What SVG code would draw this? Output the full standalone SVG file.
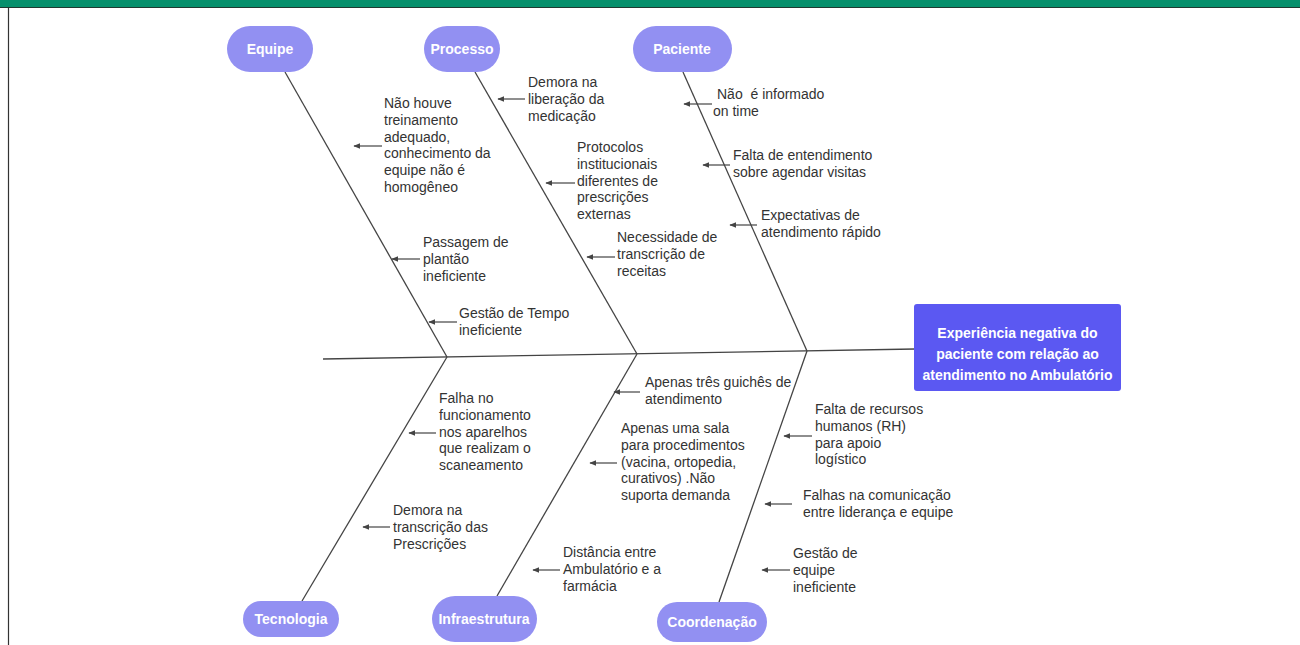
<svg xmlns="http://www.w3.org/2000/svg" width="1300" height="645" viewBox="0 0 1300 645">
<style>
.bg{fill:#ffffff}
.pill{fill:#9290f2}
.pt{font-family:"Liberation Sans",Arial,sans-serif;font-size:14px;font-weight:bold;fill:#ffffff;text-anchor:middle}
.lbl{font-family:"Liberation Sans",Arial,sans-serif;font-size:14px;fill:#333333}
.bone{stroke:#444444;stroke-width:1.3;fill:none}
.arr{stroke:#444444;stroke-width:1.2;fill:none;marker-end:url(#ah)}
</style>
<defs>
<marker id="ah" viewBox="0 0 10 10" refX="9" refY="5" markerWidth="7" markerHeight="7" markerUnits="userSpaceOnUse" orient="auto">
<path d="M0,1 L10,5 L0,9 z" fill="#444444"/>
</marker>
</defs>
<rect class="bg" x="0" y="0" width="1300" height="645"/>
<rect x="0" y="0" width="1300" height="7" fill="#06906c"/>
<line x1="0" y1="7.5" x2="1300" y2="7.5" stroke="#1f3a30" stroke-width="1.2"/>
<line x1="8.5" y1="8" x2="8.5" y2="645" stroke="#333333" stroke-width="1.2"/>

<g id="connectors">
<line class="bone" x1="323" y1="359" x2="915" y2="349"/>
<line class="bone" x1="285" y1="72" x2="447" y2="357"/>
<line class="bone" x1="475" y1="72" x2="637" y2="354"/>
<line class="bone" x1="683" y1="72" x2="807" y2="351"/>
<line class="bone" x1="447" y1="357" x2="302" y2="601"/>
<line class="bone" x1="637" y1="354" x2="497" y2="596"/>
<line class="bone" x1="807" y1="351" x2="719" y2="602"/>
<line class="arr" x1="382" y1="146" x2="354" y2="146"/>
<line class="arr" x1="525" y1="99" x2="498" y2="99"/>
<line class="arr" x1="575" y1="183" x2="546" y2="183"/>
<line class="arr" x1="615" y1="257" x2="587" y2="257"/>
<line class="arr" x1="420" y1="259" x2="392" y2="259"/>
<line class="arr" x1="457" y1="322" x2="429" y2="322"/>
<line class="arr" x1="712" y1="104" x2="684" y2="104"/>
<line class="arr" x1="730" y1="165" x2="703" y2="165"/>
<line class="arr" x1="757" y1="225" x2="730" y2="225"/>
<line class="arr" x1="640" y1="392" x2="614" y2="392"/>
<line class="arr" x1="617" y1="463" x2="590" y2="463"/>
<line class="arr" x1="436" y1="433" x2="409" y2="433"/>
<line class="arr" x1="390" y1="527" x2="363" y2="527"/>
<line class="arr" x1="560" y1="570" x2="533" y2="570"/>
<line class="arr" x1="812" y1="436" x2="784" y2="436"/>
<line class="arr" x1="792" y1="504" x2="765" y2="504"/>
<line class="arr" x1="790" y1="570" x2="762" y2="570"/>
</g>

<g id="equipe"><rect class="pill" x="227" y="26" width="86" height="46" rx="23"/><text class="pt" x="270" y="54">Equipe</text></g>
<g id="processo"><rect class="pill" x="424" y="26" width="76" height="46" rx="23"/><text class="pt" x="462" y="54">Processo</text></g>
<g id="paciente"><rect class="pill" x="633" y="26" width="99" height="46" rx="23"/><text class="pt" x="682" y="54">Paciente</text></g>
<g id="tecnologia"><rect class="pill" x="243" y="601" width="96" height="36" rx="18"/><text class="pt" x="291" y="624">Tecnologia</text></g>
<g id="infraestrutura"><rect class="pill" x="432" y="596" width="105" height="46" rx="23"/><text class="pt" x="484" y="624">Infraestrutura</text></g>
<g id="coordenacao"><rect class="pill" x="657" y="602" width="110" height="40" rx="20"/><text class="pt" x="712" y="627">Coordenação</text></g>

<g id="efeito">
<rect x="914" y="304" width="207" height="87" rx="3" fill="#5b58f2"/>
<text class="pt" x="1017.5" y="338">Experiência negativa do</text>
<text class="pt" x="1017.5" y="359">paciente com relação ao</text>
<text class="pt" x="1017.5" y="380">atendimento no Ambulatório</text>
</g>

<g id="c-equipe-1"><text class="lbl" x="384" y="108"><tspan x="384">Não houve</tspan><tspan x="384" dy="16.8">treinamento</tspan><tspan x="384" dy="16.8">adequado,</tspan><tspan x="384" dy="16.8">conhecimento da</tspan><tspan x="384" dy="16.8">equipe não é</tspan><tspan x="384" dy="16.8">homogêneo</tspan></text></g>
<g id="c-equipe-2"><text class="lbl" x="423" y="247"><tspan x="423">Passagem de</tspan><tspan x="423" dy="16.8">plantão</tspan><tspan x="423" dy="16.8">ineficiente</tspan></text></g>
<g id="c-equipe-3"><text class="lbl" x="459" y="318"><tspan x="459">Gestão de Tempo</tspan><tspan x="459" dy="16.8">ineficiente</tspan></text></g>

<g id="c-processo-1"><text class="lbl" x="528" y="87"><tspan x="528">Demora na</tspan><tspan x="528" dy="16.8">liberação da</tspan><tspan x="528" dy="16.8">medicação</tspan></text></g>
<g id="c-processo-2"><text class="lbl" x="577" y="152"><tspan x="577">Protocolos</tspan><tspan x="577" dy="16.8">institucionais</tspan><tspan x="577" dy="16.8">diferentes de</tspan><tspan x="577" dy="16.8">prescrições</tspan><tspan x="577" dy="16.8">externas</tspan></text></g>
<g id="c-processo-3"><text class="lbl" x="617" y="242"><tspan x="617">Necessidade de</tspan><tspan x="617" dy="16.8">transcrição de</tspan><tspan x="617" dy="16.8">receitas</tspan></text></g>

<g id="c-paciente-1"><text class="lbl" x="717" y="99"><tspan x="717">Não&#160; é informado</tspan><tspan x="713" dy="16.8">on time</tspan></text></g>
<g id="c-paciente-2"><text class="lbl" x="733" y="160"><tspan x="733">Falta de entendimento</tspan><tspan x="733" dy="16.8">sobre agendar visitas</tspan></text></g>
<g id="c-paciente-3"><text class="lbl" x="761" y="220"><tspan x="761">Expectativas de</tspan><tspan x="761" dy="16.8">atendimento rápido</tspan></text></g>

<g id="c-tecnologia-1"><text class="lbl" x="439" y="403"><tspan x="439">Falha no</tspan><tspan x="439" dy="16.8">funcionamento</tspan><tspan x="439" dy="16.8">nos aparelhos</tspan><tspan x="439" dy="16.8">que realizam o</tspan><tspan x="439" dy="16.8">scaneamento</tspan></text></g>
<g id="c-tecnologia-2"><text class="lbl" x="393" y="515"><tspan x="393">Demora na</tspan><tspan x="393" dy="16.8">transcrição das</tspan><tspan x="393" dy="16.8">Prescrições</tspan></text></g>

<g id="c-infra-1"><text class="lbl" x="645" y="387"><tspan x="645">Apenas três guichês de</tspan><tspan x="645" dy="16.8">atendimento</tspan></text></g>
<g id="c-infra-2"><text class="lbl" x="621" y="433"><tspan x="621">Apenas uma sala</tspan><tspan x="621" dy="16.8">para procedimentos</tspan><tspan x="621" dy="16.8">(vacina, ortopedia,</tspan><tspan x="621" dy="16.8">curativos) .Não</tspan><tspan x="621" dy="16.8">suporta demanda</tspan></text></g>
<g id="c-infra-3"><text class="lbl" x="563" y="557"><tspan x="563">Distância entre</tspan><tspan x="563" dy="16.8">Ambulatório e a</tspan><tspan x="563" dy="16.8">farmácia</tspan></text></g>

<g id="c-coord-1"><text class="lbl" x="815" y="414"><tspan x="815">Falta de recursos</tspan><tspan x="815" dy="16.8">humanos (RH)</tspan><tspan x="815" dy="16.8">para apoio</tspan><tspan x="815" dy="16.8">logístico</tspan></text></g>
<g id="c-coord-2"><text class="lbl" x="803" y="500"><tspan x="803">Falhas na comunicação</tspan><tspan x="803" dy="16.8">entre liderança e equipe</tspan></text></g>
<g id="c-coord-3"><text class="lbl" x="793" y="558"><tspan x="793">Gestão de</tspan><tspan x="793" dy="16.8">equipe</tspan><tspan x="793" dy="16.8">ineficiente</tspan></text></g>
</svg>
